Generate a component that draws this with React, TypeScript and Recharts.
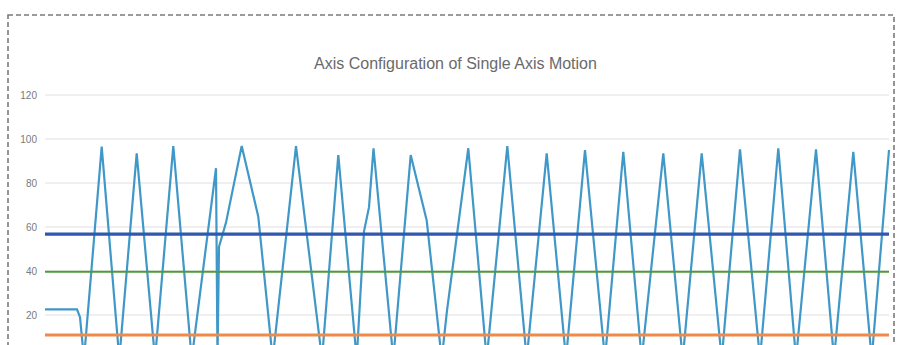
import React from "react";
import { LineChart, Line, XAxis, YAxis, CartesianGrid } from "recharts";

// Motion trace vertices: time position (sample units) and axis value
const motionTime = [
  0, 32, 35, 39, 56.7, 74.3, 91.7, 110, 128.3, 146.7, 171, 172.5, 174, 181, 196.7,
  213.3, 227.7, 251, 277, 293.3, 311.7, 319, 324, 328.5, 348.3, 365.7, 381.7, 396.7,
  402, 423.3, 441.7, 462.3, 481.7, 501.7, 521, 540, 560, 578.3, 596.7, 618.3, 637.7,
  656.7, 676.7, 695, 715, 733.3, 751, 771, 789, 808.3, 826.7, 844,
];
const motionValue = [
  22.6, 22.6, 19, 0, 96.5, 0, 93.5, 0, 96.8, 0, 86.7, 0, 51, 62, 96.8,
  64.7, 0, 96.8, 0, 92.7, 0, 58, 69, 95.8, 0, 92.7, 63, 0,
  22, 95.8, 0, 96.8, 0, 93.5, 0, 95, 0, 94.2, 0, 93.5, 0,
  93.5, 0, 95.3, 0, 95.8, 0, 95.3, 0, 94.2, 0, 95,
];

// Constant configuration levels
const levelTime = [0, 844];
const blueLevel = [56.8, 56.8];
const greenLevel = [39.7, 39.7];
const orangeLevel = [10.9, 10.9];

// Visible tick labels (0 lies below the visible area)
const yTicks = [20, 40, 60, 80, 100, 120];
const title = "Axis Configuration of Single Axis Motion";

const motionData = motionTime.map((t, i) => ({ t, v: motionValue[i] }));
const mk = (vals: number[]) => levelTime.map((t, i) => ({ t, v: vals[i] }));
const blueData = mk(blueLevel);
const greenData = mk(greenLevel);
const orangeData = mk(orangeLevel);

export default function App() {
  return (
    <div
      style={{
        position: "absolute",
        left: 0,
        top: 0,
        width: 901,
        height: 345,
        overflow: "hidden",
        background: "#ffffff",
        fontFamily: "'Liberation Sans', Arial, sans-serif",
      }}
    >
      <svg
        width={901}
        height={345}
        style={{ position: "absolute", left: 0, top: 0 }}
      >
        <rect
          x={8}
          y={15}
          width={886}
          height={420}
          fill="none"
          stroke="#7a7a7a"
          strokeWidth={1.6}
          strokeDasharray="5 3"
        />
      </svg>
      <div
        style={{
          position: "absolute",
          left: 10,
          width: 891,
          top: 56,
          textAlign: "center",
          fontSize: 16,
          lineHeight: "16px",
          color: "#6a6a6a",
        }}
      >
        {title}
      </div>
      <div style={{ position: "absolute", left: 0, top: 0 }}>
        <LineChart
          width={901}
          height={380}
          margin={{ top: 95, right: 12, bottom: 21, left: 8 }}
        >
          <CartesianGrid horizontal vertical={false} stroke="#e0e0e0" />
          <XAxis dataKey="t" type="number" domain={[0, 844]} hide />
          <YAxis
            type="number"
            domain={[0, 120]}
            ticks={yTicks}
            width={37}
            axisLine={false}
            tickLine={false}
            tick={{ fill: "#7a7a7a", fontSize: 10 }}
          />
          <Line
            data={motionData}
            dataKey="v"
            stroke="#4098c8"
            strokeWidth={2.2}
            dot={false}
            isAnimationActive={false}
          />
          <Line
            data={orangeData}
            dataKey="v"
            stroke="#ee8a4a"
            strokeWidth={3}
            dot={false}
            isAnimationActive={false}
          />
          <Line
            data={greenData}
            dataKey="v"
            stroke="#4f9a3c"
            strokeWidth={2}
            dot={false}
            isAnimationActive={false}
          />
          <Line
            data={blueData}
            dataKey="v"
            stroke="#2f58b0"
            strokeWidth={3.2}
            dot={false}
            isAnimationActive={false}
          />
        </LineChart>
      </div>
    </div>
  );
}
